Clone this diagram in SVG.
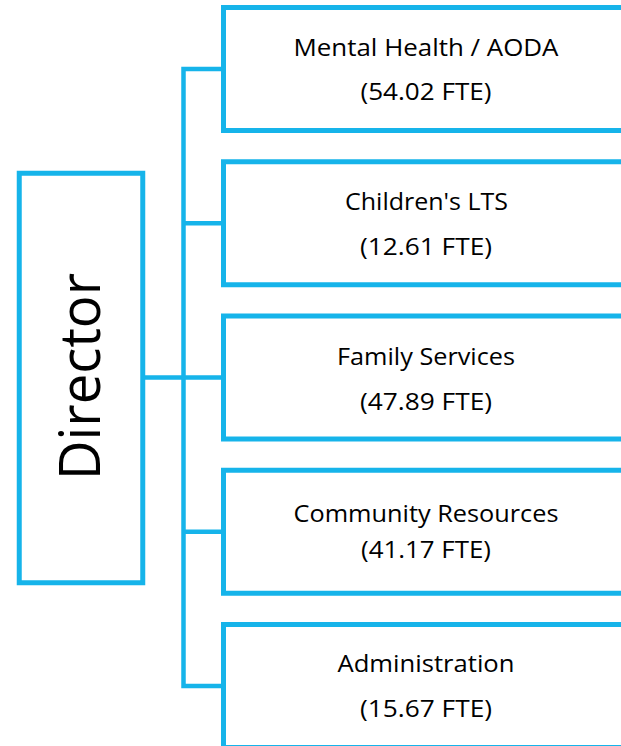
<svg xmlns="http://www.w3.org/2000/svg" width="621" height="746" viewBox="0 0 621 746">
<style>
.box{fill:#fff;stroke:#16b4ea;stroke-width:5}
.con{fill:none;stroke:#16b4ea;stroke-width:4.5}
.t{font-family:"Open Sans","Noto Sans",sans-serif;font-size:24px;fill:#000;text-anchor:middle}
.d{font-family:"Open Sans","Noto Sans",sans-serif;font-size:56px;fill:#000;text-anchor:middle}
</style>
<rect width="621" height="746" fill="#fff"/>
<g id="connectors">
<path class="con" d="M145 377.5H183.5M183.5 69H226M183.5 223.25H226M183.5 377.5H226M183.5 531.75H226M183.5 686H226M183.5 66.75V688.25"/>
</g>
<g id="director">
<rect class="box" x="19.25" y="173.25" width="123.5" height="409.5" stroke-width="4.5"/>
<text class="d" transform="translate(100 376.5) rotate(-90)" x="0" y="0" textLength="207" lengthAdjust="spacingAndGlyphs">Director</text>
</g>
<g id="mental-health">
<rect class="box" x="223.5" y="7.5" width="410" height="123"/>
<text class="t" x="426" y="56" textLength="265" lengthAdjust="spacingAndGlyphs">Mental Health / AODA</text>
<text class="t" x="426" y="100" textLength="131" lengthAdjust="spacingAndGlyphs">(54.02 FTE)</text>
</g>
<g id="childrens-lts">
<rect class="box" x="223.5" y="161.75" width="410" height="123"/>
<text class="t" x="426.5" y="209.5" textLength="163" lengthAdjust="spacingAndGlyphs">Children's LTS</text>
<text class="t" x="426" y="255" textLength="132" lengthAdjust="spacingAndGlyphs">(12.61 FTE)</text>
</g>
<g id="family-services">
<rect class="box" x="223.5" y="316" width="410" height="123"/>
<text class="t" x="426" y="364.5" textLength="178" lengthAdjust="spacingAndGlyphs">Family Services</text>
<text class="t" x="426" y="410" textLength="132" lengthAdjust="spacingAndGlyphs">(47.89 FTE)</text>
</g>
<g id="community-resources">
<rect class="box" x="223.5" y="470.25" width="410" height="123"/>
<text class="t" x="426" y="521.7" textLength="265" lengthAdjust="spacingAndGlyphs">Community Resources</text>
<text class="t" x="426" y="558.3" textLength="130" lengthAdjust="spacingAndGlyphs">(41.17 FTE)</text>
</g>
<g id="administration">
<rect class="box" x="223.5" y="624.5" width="410" height="123"/>
<text class="t" x="426" y="671.7" textLength="177" lengthAdjust="spacingAndGlyphs">Administration</text>
<text class="t" x="426" y="716.7" textLength="132" lengthAdjust="spacingAndGlyphs">(15.67 FTE)</text>
</g>
</svg>
